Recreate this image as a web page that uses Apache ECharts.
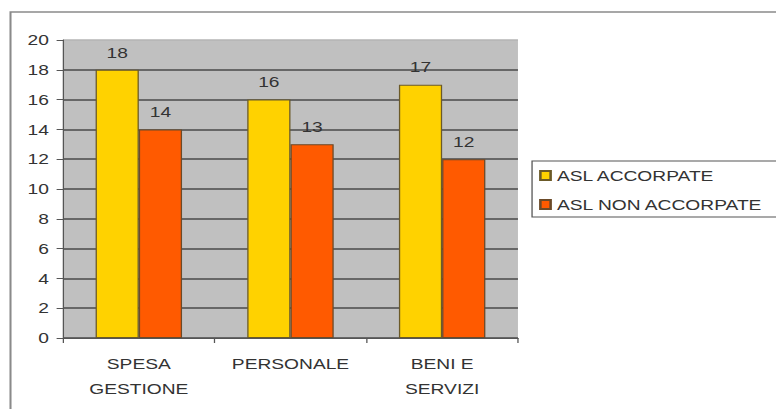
<!DOCTYPE html>
<html>
<head>
<meta charset="utf-8">
<script src="https://cdn.jsdelivr.net/npm/echarts@6/dist/echarts.min.js"></script>
<style>
  html, body { margin: 0; padding: 0; background: #fff; overflow: hidden; }
  /* The chart is laid out on a narrower canvas and widened horizontally,
     which gives the broad, stretched lettering of the original report. */
  #chart {
    width: 606px;
    height: 409px;
    transform: scaleX(1.2805);
    transform-origin: 0 0;
  }
</style>
</head>
<body>
<div id="chart"></div>
<script>
// Categories and values
const categories = ['SPESA\nGESTIONE', 'PERSONALE', 'BENI E\nSERVIZI'];
const seriesNames = ['ASL ACCORPATE', 'ASL NON ACCORPATE'];
const accorpate = [18, 16, 17];
const nonAccorpate = [14, 13, 12];
const yMin = 0;
const yMax = 20;
const yStep = 2;

const FONT = "'Liberation Sans', Arial, sans-serif";
const TEXT = '#333333';

// Dark grid lines, with a lighter line along the top of the plot
const splitColors = [];
for (let v = yMin; v <= yMax; v += yStep) {
  splitColors.push(v === yMax ? '#b4b4b4' : '#4a4a4a');
}

const chart = echarts.init(document.getElementById('chart'), null, { renderer: 'svg' });

chart.setOption({
  animation: false,
  backgroundColor: '#ffffff',
  textStyle: { fontFamily: FONT },
  graphic: [{
    type: 'rect',
    z: -10,
    shape: { x: 8.2, y: 12, width: 700, height: 500 },
    style: { fill: 'none', stroke: '#8a8a8a', lineWidth: 1.6 }
  }],
  grid: {
    left: 49.2,
    right: 201.5,
    top: 40,
    bottom: 71,
    show: true,
    backgroundColor: '#c0c0c0',
    borderWidth: 0
  },
  legend: {
    orient: 'vertical',
    left: 415.5,
    top: 161,
    padding: [7, 14, 5, 5.5],
    itemGap: 14,
    itemWidth: 8,
    itemHeight: 9,
    itemTextGap: 7,
    icon: 'rect',
    backgroundColor: '#ffffff',
    borderColor: '#555555',
    borderWidth: 1,
    textStyle: { fontFamily: FONT, fontSize: 15, color: TEXT },
    data: seriesNames
  },
  xAxis: {
    type: 'category',
    data: categories,
    axisLine: { show: true, lineStyle: { color: '#555555', width: 1 } },
    axisTick: { show: true, length: 5, alignWithLabel: false, lineStyle: { color: '#555555' } },
    axisLabel: {
      interval: 0,
      margin: 13,
      fontFamily: FONT,
      fontSize: 15,
      lineHeight: 25,
      color: TEXT
    },
    splitLine: { show: false }
  },
  yAxis: {
    type: 'value',
    min: yMin,
    max: yMax,
    interval: yStep,
    axisLine: { show: true, lineStyle: { color: '#555555', width: 1 } },
    axisTick: { show: true, length: 5, lineStyle: { color: '#555555' } },
    axisLabel: { margin: 11, fontFamily: FONT, fontSize: 15, color: TEXT },
    splitLine: { show: true, lineStyle: { color: splitColors, width: 1.5 } }
  },
  series: [
    {
      name: seriesNames[0],
      type: 'bar',
      data: accorpate,
      barGap: '0%',
      barCategoryGap: '43%',
      itemStyle: { color: '#ffd200', borderColor: '#6b5a28', borderWidth: 1 },
      label: { show: true, position: 'top', distance: 10, fontFamily: FONT, fontSize: 15, color: TEXT }
    },
    {
      name: seriesNames[1],
      type: 'bar',
      data: nonAccorpate,
      barGap: '0%',
      barCategoryGap: '43%',
      itemStyle: { color: '#ff5a00', borderColor: '#6b4a28', borderWidth: 1 },
      label: { show: true, position: 'top', distance: 10, fontFamily: FONT, fontSize: 15, color: TEXT }
    }
  ]
});
</script>
</body>
</html>
